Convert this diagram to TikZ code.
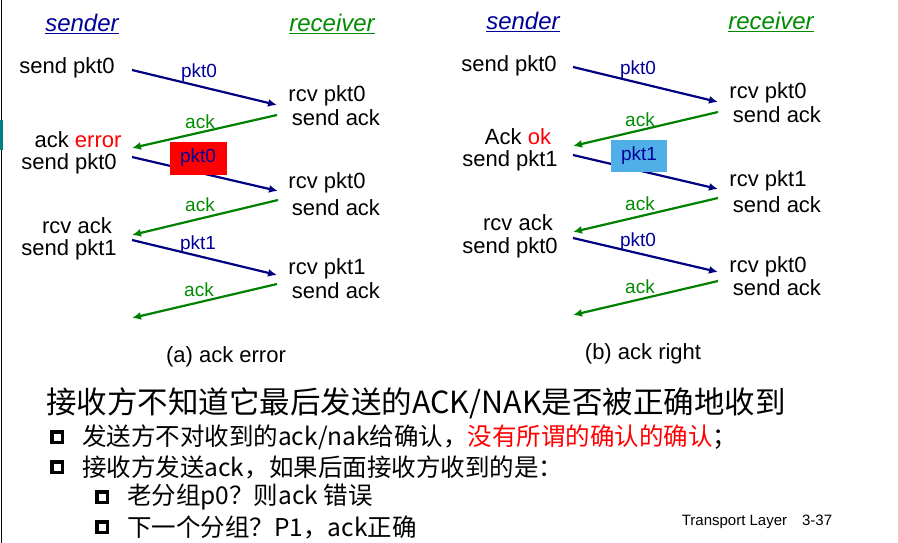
\documentclass[tikz,border=0pt]{standalone}
\usepackage{fontspec}
\setmainfont{Liberation Sans}
\newfontfamily\cjk{Noto Sans CJK SC}
\usetikzlibrary{arrows.meta}
\begin{document}
\begin{tikzpicture}[x=1pt,y=-1pt,
 t/.style={font=\fontsize{22}{24}\selectfont,inner sep=0pt},
 hd/.style={font=\fontsize{24}{26}\selectfont\itshape,inner sep=1pt},
 lb/.style={font=\fontsize{19}{20}\selectfont,inner sep=1pt},
 pk/.style={draw=blue!50!black,line width=2.2pt,-{Latex[length=9pt,width=8pt]}},
 ak/.style={draw=green!50!black,line width=2.2pt,-{Latex[length=9pt,width=8pt]}},
 sq/.style={fill=black,minimum size=14pt,inner sep=0pt,path picture={\fill[white] ([shift={(3.5pt,3.5pt)}]path picture bounding box.south west) rectangle ([shift={(-3.5pt,-3.5pt)}]path picture bounding box.north east);}},
 bx/.style={font=\cjk\fontsize{24.5}{26}\selectfont,anchor=west,inner sep=0pt}]
\useasboundingbox (0,0) rectangle (898,543);
\fill[white] (0,0) rectangle (898,543);
\draw[line width=1pt] (1,0) -- (1,543);
\fill[teal] (0,120) rectangle (3,150);
% headers
\node[hd,text=blue!60!black] (s1) at (82,24) {\underline{sender}};
\node[hd,text=green!55!black] (r1) at (332,24) {\underline{receiver}};
\node[hd,text=blue!60!black] (s2) at (523,22) {\underline{sender}};
\node[hd,text=green!55!black] (r2) at (771,22) {\underline{receiver}};
% left
\node[t] (a1) at (67,68) {send pkt0};
\node[t] (a2) at (327,96) {rcv pkt0};
\node[t] (a3) at (336,118) {send ack};
\node[t] (a4) at (78,140) {ack \textcolor{red}{error}};
\node[t] (a5) at (69,164) {send pkt0};
\node[t] (a6) at (327,183) {rcv pkt0};
\node[t] (a7) at (336,208) {send ack};
\node[t] (a8) at (77,226) {rcv ack};
\node[t] (a9) at (69,250) {send pkt1};
\node[t] (a10) at (327,269) {rcv pkt1};
\node[t] (a11) at (336,291) {send ack};
\coordinate (p1) at (132,70); \coordinate (q1) at (277,105);
\coordinate (p2) at (277,115); \coordinate (q2) at (132,148);
\coordinate (p3) at (132,157); \coordinate (q3) at (278,191);
\coordinate (p4) at (278,200); \coordinate (q4) at (132,235);
\coordinate (p5) at (132,240); \coordinate (q5) at (277,275);
\coordinate (p6) at (277,284); \coordinate (q6) at (132,318);
\draw[pk] (p1) -- (q1); \draw[ak] (p2) -- (q2); \draw[pk] (p3) -- (q3);
\draw[ak] (p4) -- (q4); \draw[pk] (p5) -- (q5); \draw[ak] (p6) -- (q6);
\node[lb,text=blue!60!black] (l1) at (199,73) {pkt0};
\node[lb,text=green!55!black] (l2) at (200,122) {ack};
\node[lb,text=blue!60!black,fill=red,minimum width=57pt,minimum height=33pt] (l3) at (198,158) {pkt0};
\node[lb,text=green!55!black] (l4) at (200,205) {ack};
\node[lb,text=blue!60!black] (l5) at (198,245) {pkt1};
\node[lb,text=green!55!black] (l6) at (199,290) {ack};
% right
\node[t] (b1) at (509,66) {send pkt0};
\node[t] (b2) at (768,93) {rcv pkt0};
\node[t] (b3) at (777,115) {send ack};
\node[t] (b4) at (518,137) {Ack \textcolor{red}{ok}};
\node[t] (b5) at (510,161) {send pkt1};
\node[t] (b6) at (768,181) {rcv pkt1};
\node[t] (b7) at (777,205) {send ack};
\node[t] (b8) at (518,223) {rcv ack};
\node[t] (b9) at (510,248) {send pkt0};
\node[t] (b10) at (768,267) {rcv pkt0};
\node[t] (b11) at (777,288) {send ack};
\coordinate (u1) at (573,67); \coordinate (v1) at (718,102);
\coordinate (u2) at (718,112); \coordinate (v2) at (573,146);
\coordinate (u3) at (573,155); \coordinate (v3) at (718,189);
\coordinate (u4) at (718,198); \coordinate (v4) at (573,232);
\coordinate (u5) at (573,238); \coordinate (v5) at (718,272);
\coordinate (u6) at (718,281); \coordinate (v6) at (573,315);
\draw[pk] (u1) -- (v1); \draw[ak] (u2) -- (v2); \draw[pk] (u3) -- (v3);
\draw[ak] (u4) -- (v4); \draw[pk] (u5) -- (v5); \draw[ak] (u6) -- (v6);
\node[lb,text=blue!60!black] (m1) at (638,70) {pkt0};
\node[lb,text=green!55!black] (m2) at (640,120) {ack};
\node[lb,text=blue!60!black,fill=cyan!80!blue!70,minimum width=56pt,minimum height=32pt] (m3) at (639,156) {pkt1};
\node[lb,text=green!55!black] (m4) at (640,204) {ack};
\node[lb,text=blue!60!black] (m5) at (638,242) {pkt0};
\node[lb,text=green!55!black] (m6) at (640,287) {ack};
% captions
\node[t] (c1) at (226,357) {(a) ack error};
\node[t] (c2) at (643,354) {(b) ack right};
% text
\node[font=\cjk\fontsize{30.5}{32}\selectfont,inner sep=0pt,anchor=west] (tt) at (46,403) {接收方不知道它最后发送的ACK/NAK是否被正确地收到};
\node[sq] (k1) at (57,437) {};
\node[bx] (x1) at (82,437) {发送方不对收到的ack/nak给确认，\textcolor{red}{没有所谓的确认的确认}；};
\node[sq] (k2) at (57,467) {};
\node[bx] (x2) at (82,467) {接收方发送ack，如果后面接收方收到的是：};
\node[sq] (k3) at (102,497) {};
\node[bx] (x3) at (127,497) {老分组p0？则ack 错误};
\node[sq] (k4) at (102,527) {};
\node[bx] (x4) at (127,527) {下一个分组？P1，ack正确};
\node[font=\fontsize{15}{16}\selectfont,inner sep=0pt] (tl) at (757,522) {Transport Layer\quad 3-37};
\end{tikzpicture}
\end{document}
